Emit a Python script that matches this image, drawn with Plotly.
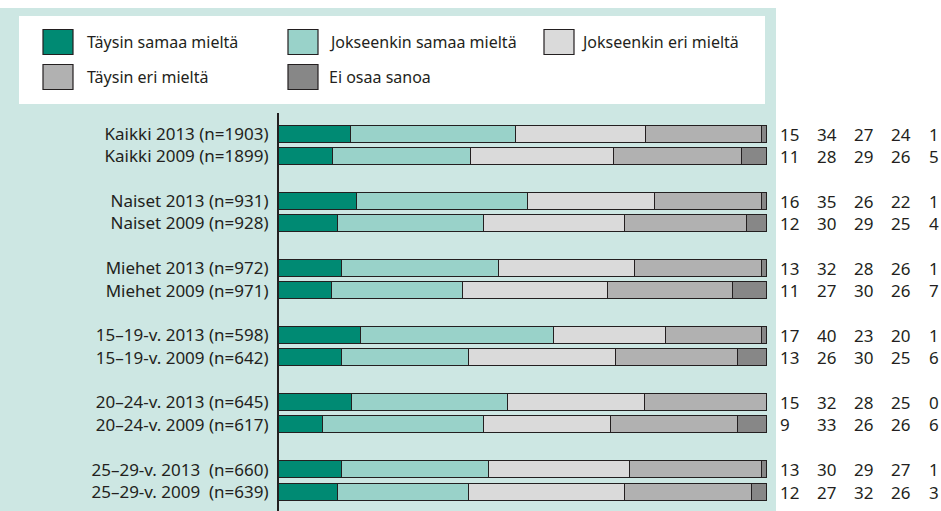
import plotly.graph_objects as go

# Survey responses (%), one row per group and year
row_labels = [
    "Kaikki 2013 (n=1903)", "Kaikki 2009 (n=1899)",
    "Naiset 2013 (n=931)", "Naiset 2009 (n=928)",
    "Miehet 2013 (n=972)", "Miehet 2009 (n=971)",
    "15–19-v. 2013 (n=598)", "15–19-v. 2009 (n=642)",
    "20–24-v. 2013 (n=645)", "20–24-v. 2009 (n=617)",
    "25–29-v. 2013  (n=660)", "25–29-v. 2009  (n=639)",
]
categories = ["Täysin samaa mieltä", "Jokseenkin samaa mieltä",
              "Jokseenkin eri mieltä", "Täysin eri mieltä", "Ei osaa sanoa"]
taysin_samaa = [15, 11, 16, 12, 13, 11, 17, 13, 15, 9, 13, 12]
jokseenkin_samaa = [34, 28, 35, 30, 32, 27, 40, 26, 32, 33, 30, 27]
jokseenkin_eri = [27, 29, 26, 29, 28, 30, 23, 30, 28, 26, 29, 32]
taysin_eri = [24, 26, 22, 25, 26, 26, 20, 25, 25, 26, 27, 26]
ei_osaa = [1, 5, 1, 4, 1, 7, 1, 6, 0, 6, 1, 3]
series = [taysin_samaa, jokseenkin_samaa, jokseenkin_eri, taysin_eri, ei_osaa]
colors = ["#008a73", "#99d2c9", "#dadada", "#b1b1b1", "#878787"]

W, H = 941, 511
PANEL = "#cde7e3"
EDGE = "#231f20"
FONT = "Noto Sans"
FS_LEG = 16
FS = 17

# rows in pairs, with an empty slot between the groups
ypos = [g * 3 + k for g in range(6) for k in range(2)]

fig = go.Figure()
for name, vals, col in zip(categories, series, colors):
    fig.add_trace(go.Bar(
        y=ypos, x=vals, name=name, orientation="h", width=0.76,
        marker=dict(color=col, line=dict(color=EDGE, width=1.5)),
        showlegend=False, hoverinfo="x+name",
    ))

# pixel geometry
x0_px, x1_px = 279, 767
top_px, bot_px = 113, 511
row0_px, step_px = 134, 22.375
y_top = (top_px - row0_px) / step_px
y_bot = (bot_px - row0_px) / step_px

fig.update_layout(
    width=W, height=H, margin=dict(l=0, r=0, t=0, b=0),
    paper_bgcolor="white", plot_bgcolor="rgba(0,0,0,0)",
    barmode="stack", barnorm="percent", bargap=0,
    font=dict(family=FONT, size=FS, color="#231f20"),
    xaxis=dict(domain=[x0_px / W, x1_px / W], range=[0, 100], visible=False,
               fixedrange=True),
    yaxis=dict(domain=[0, (bot_px - top_px) / H], range=[y_bot, y_top],
               tickvals=ypos, ticktext=row_labels, showline=True,
               linecolor=EDGE, linewidth=2, ticks="", showgrid=False,
               zeroline=False, ticklabelstandoff=5,
               tickfont=dict(family=FONT, size=FS, color="#231f20")),
)

shapes = []
# teal panel behind everything
shapes.append(dict(type="rect", xref="paper", yref="paper", layer="below",
                   x0=0, x1=776 / W, y0=0, y1=1 - 8 / H,
                   fillcolor=PANEL, line=dict(width=0)))
# white legend box
shapes.append(dict(type="rect", xref="paper", yref="paper", layer="below",
                   x0=19 / W, x1=765 / W, y0=1 - 104 / H, y1=1 - 16 / H,
                   fillcolor="white", line=dict(width=0)))

annotations = []
# legend entries: (swatch x, text x, row center y)
legend_pos = [(43, 86, 42), (288, 328, 42), (544, 580, 42),
              (43, 86, 77), (288, 328, 77)]
for (sx, tx, cy), name, col in zip(legend_pos, categories, colors):
    shapes.append(dict(type="rect", xref="paper", yref="paper",
                       x0=sx / W, x1=(sx + 30) / W,
                       y0=1 - (cy + 12.5) / H, y1=1 - (cy - 12.5) / H,
                       fillcolor=col, line=dict(color=EDGE, width=1.2)))
    annotations.append(dict(xref="paper", yref="paper", x=tx / W,
                            y=1 - cy / H, text=name, showarrow=False,
                            xanchor="left", yanchor="middle", borderpad=0,
                            font=dict(family=FONT, size=FS_LEG,
                                      color="#231f20")))

# value columns to the right of the bars
col_x = [780, 817, 854, 891, 929]
for vals, cx in zip(series, col_x):
    for yv, v in zip(ypos, vals):
        annotations.append(dict(xref="paper", yref="y", x=cx / W, y=yv,
                                text=str(v), showarrow=False, borderpad=0,
                                borderwidth=0,
                                xanchor="left", yanchor="middle",
                                font=dict(family=FONT, size=FS,
                                          color="#231f20")))

fig.update_layout(shapes=shapes, annotations=annotations)
fig.write_html("out.html")
